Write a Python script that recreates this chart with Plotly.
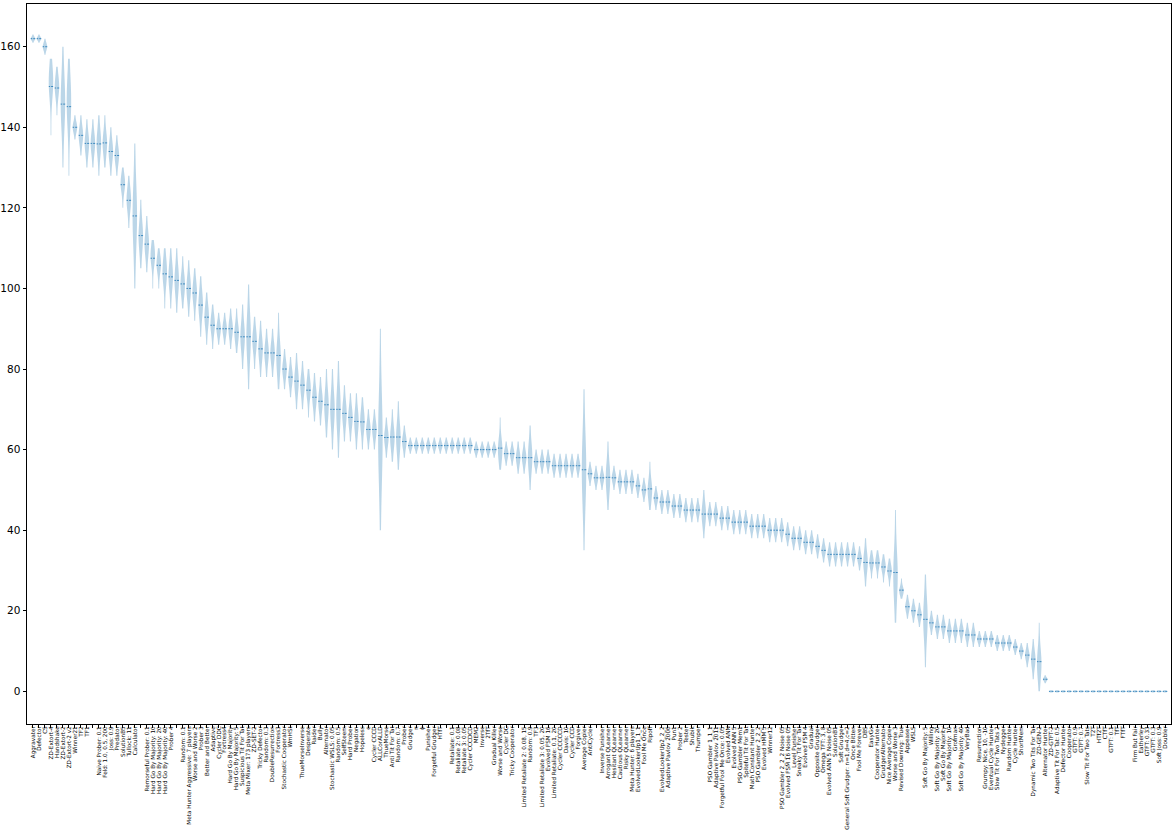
import plotly.graph_objects as go

# strategy names in ranked order ("" = label not shown in the original)
names = [
    "Aggravater", "Defector", "CS", "ZD-Extort-4", "Handshake", "ZD-Extort-2",
    "ZD-Extort-2 v2", "Winner21", "TF2", "TF1", "", "Naive Prober: 0.1",
    "Feld: 1.0, 0.5, 200", "Joss: 0.9", "Predator", "SolutionB5", "Tullock: 11",
    "Calculator", "", "Remorseful Prober: 0.1", "Hard Go By Majority: 10",
    "Hard Go By Majority: 20", "Hard Go By Majority: 40", "Prober 4", "",
    "Random: 0.1", "Meta Hunter Aggressive: 7 players", "Worse and Worse 2",
    "Prober 3", "Better and Better", "Adaptive", "Cycler DDC", "Fortress4",
    "Hard Go By Majority", "Hard Go By Majority: 5", "Suspicious Tit For Tat",
    "Meta Mixer: 173 players", "ZD-SET-2", "Tricky Defector", "Random: 0.3",
    "DoubleResurrection", "Fortress3", "Stochastic Cooperator", "WmHSt", "",
    "ThueMorseInverse", "Desperate", "Raider", "Bully", "Alternator",
    "Stochastic WSLS: 0.05", "Random: 0.5", "SelfSteem", "Hard Prober",
    "Negation", "Hopeless", "e", "Cycler CCCD", "ALLCorALLD", "ThueMorse",
    "Anti Tit For Tat", "Random: 0.7", "Prober", "Grudger", "π", "ϕ",
    "Punisher", "Forgetful Grudger", "HTfT", "", "Retaliate: 0.1",
    "Retaliate 2: 0.08", "Retaliate 3: 0.05", "Cycler CCCDCD", "MEM2",
    "Inverse", "2TfT", "Gradual Killer", "Worse and Worse", "Cycler DC",
    "Tricky Cooperator", "", "Limited Retaliate 2: 0.08, 15", "Random: 0.9",
    "TF3", "Limited Retaliate 3: 0.05, 20", "Evolved FSM 16",
    "Limited Retaliate: 0.1, 20", "Cycler CCCCCD", "Davis: 10", "Cycler CCD",
    "Forgiver", "Average Copier", "AntiCycler", "", "Inverse Punisher",
    "Arrogant QLearner", "Hesitant QLearner", "Cautious QLearner",
    "Risky QLearner", "Meta Hunter: 6 players", "EvolvedLookerUp1_1_1",
    "Fool Me Once", "Ripoff", "", "EvolvedLookerUp2_2_2",
    "Adaptive Pavlov 2006", "Pun1", "Prober 2", "Tester", "Shubik", "Thumper",
    "", "PSO Gambler 1_1_1", "Adaptive Pavlov 2011",
    "Forgetful Fool Me Once: 0.05", "Evolved ANN", "Evolved ANN 5",
    "PSO Gambler Mem1", "Spiteful Tit For Tat", "Math Constant Hunter",
    "PSO Gambler 2_2_2", "Evolved HMM 5", "Winner12", "",
    "PSO Gambler 2_2_2 Noise 05", "Evolved FSM 16 Noise 05", "Level Punisher",
    "Sneaky Tit For Tat", "Evolved FSM 4", "Gradual", "Opposite Grudger",
    "Omega TFT: 3, 8", "Evolved ANN 5 Noise 05", "SolutionB1", "Soft Grudger",
    "General Soft Grudger: n=1,d=4,c=2", "Once Bitten", "Fool Me Forever", "DBS",
    "EasyGo", "Cooperator Hunter", "GrudgerAlternator", "Nice Average Copier",
    "Worse and Worse 3", "Revised Downing: True", "Appeaser", "WSLS", "",
    "Soft Go By Majority: 5", "Willing", "Soft Go By Majority: 20",
    "Soft Go By Majority", "Soft Go By Majority: 10", "Grofman",
    "Soft Go By Majority: 40", "VeryBad", "", "Resurrection",
    "Grumpy: Nice, 10, -10", "Eventual Cycle Hunter", "Slow Tit For Two Tats 2",
    "Nydegger", "Random Hunter", "Cycle Hunter", "ShortMem", "",
    "Dynamic Two Tits For Tat", "ZD-GEN-2", "Alternator Hunter", "ZD-GTFT-2",
    "Adaptive Tit For Tat: 0.5", "Defector Hunter", "Cooperator", "GTFT: 0.9",
    "GTFT: 0.7", "Slow Tit For Two Tats", "T2T", "HTf2T", "CTfT", "GTFT: 0.1",
    "TfT", "FTfT", "", "Firm But Fair", "Eatherley", "GTFT: 0.33", "GTFT: 0.3",
    "Soft Joss: 0.9", "Doubler",
]

# median rank score of each strategy, and the low / high ends of its violin
medians = [
    162, 162, 160, 151, 150, 146, 146, 140, 138, 136,
    136, 136, 136, 134, 133, 126, 122, 118, 113, 111,
    108, 106, 104, 103, 102, 101, 100, 99, 96, 93,
    91, 90, 90, 90, 89, 88, 88, 87, 85, 84,
    84, 83, 80, 78, 77, 76, 75, 73, 72, 71,
    70, 70, 69, 68, 67, 67, 65, 65, 63, 63,
    63, 63, 62, 61, 61, 61, 61, 61, 61, 61,
    61, 61, 61, 61, 60, 60, 60, 60, 60, 59,
    59, 58, 58, 58, 57, 57, 57, 56, 56, 56,
    56, 56, 55, 54, 53, 53, 53, 53, 52, 52,
    52, 51, 50, 50, 48, 47, 47, 46, 46, 45,
    45, 45, 44, 44, 44, 43, 43, 42, 42, 42,
    41, 41, 41, 40, 40, 40, 39, 38, 38, 37,
    37, 36, 35, 34, 34, 34, 34, 34, 33, 32,
    32, 32, 31, 30, 29, 25, 21, 20, 19, 18,
    17, 16, 16, 15, 15, 15, 14, 14, 13, 13,
    13, 12, 12, 12, 11, 10, 9, 8, 7, 3,
    0, 0, 0, 0, 0, 0, 0, 0, 0, 0,
    0, 0, 0, 0, 0, 0, 0, 0, 0, 0,
]
lows = [
    161, 161, 158, 138, 143, 130, 128, 137, 133, 130,
    130, 128, 130, 128, 128, 120, 115, 100, 105, 104,
    100, 100, 95, 95, 94, 95, 93, 92, 88, 86,
    85, 86, 86, 85, 84, 80, 75, 80, 78, 78,
    78, 75, 75, 73, 70, 70, 68, 67, 66, 63,
    60, 58, 62, 62, 60, 60, 60, 60, 40, 58,
    57, 55, 58, 59, 59, 59, 59, 59, 59, 59,
    59, 59, 59, 59, 58, 58, 58, 58, 55, 56,
    56, 54, 54, 50, 54, 54, 54, 53, 53, 53,
    53, 53, 35, 51, 50, 50, 45, 50, 49, 49,
    49, 48, 47, 45, 45, 44, 44, 43, 43, 42,
    42, 42, 38, 41, 41, 40, 40, 39, 39, 39,
    38, 38, 38, 37, 37, 37, 36, 35, 35, 34,
    34, 33, 32, 31, 31, 31, 31, 31, 30, 26,
    28, 28, 27, 26, 17, 23, 18, 17, 16, 6,
    14, 13, 13, 12, 12, 12, 11, 11, 11, 11,
    11, 10, 10, 10, 9, 8, 6, 3, 0, 2,
    0, 0, 0, 0, 0, 0, 0, 0, 0, 0,
    0, 0, 0, 0, 0, 0, 0, 0, 0, 0,
]
highs = [
    163, 163, 162, 157, 155, 160, 157, 143, 143, 142,
    142, 143, 143, 140, 138, 130, 128, 136, 122, 118,
    112, 110, 110, 110, 110, 108, 107, 105, 103, 99,
    96, 94, 94, 95, 95, 96, 101, 93, 92, 90,
    90, 94, 85, 83, 84, 82, 80, 79, 78, 80,
    80, 82, 76, 74, 74, 73, 70, 70, 90, 68,
    70, 72, 66, 63, 63, 63, 63, 63, 63, 63,
    63, 63, 63, 63, 62, 62, 62, 62, 68, 62,
    62, 62, 62, 66, 60, 60, 60, 59, 59, 59,
    59, 59, 75, 57, 56, 56, 62, 56, 55, 55,
    55, 54, 53, 57, 51, 50, 50, 49, 49, 48,
    48, 48, 50, 47, 47, 46, 46, 45, 45, 45,
    44, 44, 44, 43, 43, 43, 42, 41, 41, 40,
    40, 39, 38, 37, 37, 37, 37, 37, 36, 38,
    35, 35, 34, 33, 45, 28, 24, 23, 22, 29,
    20, 19, 19, 18, 18, 18, 17, 17, 15, 15,
    15, 14, 14, 14, 13, 12, 12, 13, 17, 4,
    0, 0, 0, 0, 0, 0, 0, 0, 0, 0,
    0, 0, 0, 0, 0, 0, 0, 0, 0, 0,
]

positions = list(range(1, len(names) + 1))

fig = go.Figure()

for pos, med, lo, hi in zip(positions, medians, lows, highs):
    spread = hi - lo
    if spread < 0.5:
        samples = [med] * 6
        bw = 0.25
        span = [med - 0.3, med + 0.3]
    else:
        samples = [lo] + [med] * 6 + [hi]
        bw = max(spread / 4.5, 0.35)
        span = [lo, hi]
    fig.add_trace(go.Violin(
        x=[pos] * len(samples),
        y=samples,
        width=0.75,
        bandwidth=bw,
        spanmode='manual',
        span=span,
        points=False,
        fillcolor='rgba(31, 119, 180, 0.3)',
        line=dict(color='rgba(31, 119, 180, 0.0)', width=0),
        meanline=dict(visible=True, color='rgba(31, 119, 180, 0.8)', width=1),
        hoverinfo='skip',
        showlegend=False,
    ))

fig.update_layout(
    width=1176,
    height=832,
    margin=dict(l=27, r=5, t=4, b=108),
    plot_bgcolor='white',
    paper_bgcolor='white',
    font=dict(family='DejaVu Sans', color='black'),
    violinmode='overlay',
    showlegend=False,
)

fig.update_xaxes(
    range=[0, len(names) + 1],
    tickmode='array',
    tickvals=positions,
    ticktext=names,
    tickangle=-90,
    tickfont=dict(size=5.7, family='DejaVu Sans'),
    ticklabelstandoff=-4,
    ticks='outside',
    ticklen=3,
    tickcolor='black',
    showgrid=False,
    zeroline=False,
    showline=True,
    linecolor='black',
    linewidth=1,
    mirror=True,
    automargin=False,
)

fig.update_yaxes(
    range=[-8.1, 170.6],
    tickvals=[0, 20, 40, 60, 80, 100, 120, 140, 160],
    tickfont=dict(size=10.5, family='DejaVu Sans'),
    ticks='outside',
    ticklen=3.5,
    tickcolor='black',
    showgrid=False,
    zeroline=False,
    showline=True,
    linecolor='black',
    linewidth=1,
    mirror=True,
    automargin=False,
)

# the page's default body margin would shift the figure; remove it
fig.write_html(
    "out.html",
    config={'displayModeBar': False},
    post_script="document.body.style.margin = '0';",
)
